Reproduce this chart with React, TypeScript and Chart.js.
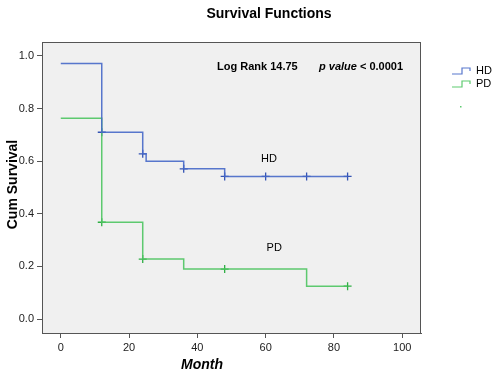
import React, { useEffect, useRef } from "react";
import { Chart, registerables } from "chart.js";

Chart.register(...registerables);

const xTickValues = [0, 20, 40, 60, 80, 100];
const yTickValues = [0, 0.2, 0.4, 0.6, 0.8, 1.0];

// Kaplan-Meier step curves (month, cumulative survival)
const hdMonths = [0, 12, 24, 25, 36, 48, 84];
const hdSurvival = [0.971, 0.71, 0.628, 0.6, 0.571, 0.542, 0.542];
const hdCensorMonths = [12, 24, 36, 48, 60, 72, 84];
const hdCensorSurvival = [0.71, 0.628, 0.571, 0.542, 0.542, 0.542, 0.542];

const pdMonths = [0, 12, 24, 36, 72, 84];
const pdSurvival = [0.763, 0.368, 0.228, 0.19, 0.125, 0.125];
const pdCensorMonths = [12, 24, 48, 84];
const pdCensorSurvival = [0.368, 0.228, 0.19, 0.125];

const HD_COLOR = "rgba(70,104,200,0.9)";
const PD_COLOR = "rgba(76,196,96,0.9)";
const HD_MARK = "#3454b4";
const PD_MARK = "#2fae44";
const FONT = "'Liberation Sans', Arial, sans-serif";

const toPts = (xs: number[], ys: number[]) => xs.map((x, i) => ({ x, y: ys[i] }));

export default function App() {
  const ref = useRef<HTMLCanvasElement | null>(null);

  useEffect(() => {
    if (!ref.current) return;
    const decor = {
      id: "decor",
      beforeDraw(chart: any) {
        const { ctx, chartArea: a } = chart;
        ctx.save();
        ctx.fillStyle = "#f0f0f0";
        ctx.fillRect(a.left, a.top, a.right - a.left, a.bottom - a.top);
        ctx.restore();
      },
      afterDraw(chart: any) {
        const { ctx, chartArea: a, scales } = chart;
        const xs = scales.x;
        ctx.save();
        ctx.strokeStyle = "#555";
        ctx.lineWidth = 1;
        ctx.strokeRect(a.left + 0.5, a.top + 0.5, a.right - a.left - 1, a.bottom - a.top);
        ctx.fillStyle = "#000";
        ctx.textBaseline = "middle";
        // Title
        ctx.font = `bold 14px ${FONT}`;
        ctx.textAlign = "center";
        ctx.fillText("Survival Functions", 269, 14);
        // Annotation
        ctx.textAlign = "left";
        ctx.font = `bold 11px ${FONT}`;
        ctx.fillText("Log Rank 14.75", 217, 67);
        ctx.font = `italic bold 11px ${FONT}`;
        ctx.fillText("p value", 319, 67);
        const pw = ctx.measureText("p value ").width;
        ctx.font = `bold 11px ${FONT}`;
        ctx.fillText("< 0.0001", 319 + pw, 67);
        // Curve labels
        ctx.font = `11px ${FONT}`;
        ctx.textAlign = "center";
        ctx.fillText("HD", xs.getPixelForValue(61), 159);
        ctx.fillText("PD", xs.getPixelForValue(62.5), 248);
        // Axis titles
        ctx.font = `italic bold 14px ${FONT}`;
        ctx.fillText("Month", 202, 365);
        ctx.save();
        ctx.translate(13, (a.top + a.bottom) / 2 - 3);
        ctx.rotate(-Math.PI / 2);
        ctx.font = `bold 14px ${FONT}`;
        ctx.fillText("Cum Survival", 0, 0);
        ctx.restore();
        // Legend
        const drawIcon = (y: number, color: string) => {
          ctx.strokeStyle = color;
          ctx.lineWidth = 1.2;
          ctx.beginPath();
          ctx.moveTo(452, y + 3);
          ctx.lineTo(462, y + 3);
          ctx.lineTo(462, y - 3);
          ctx.lineTo(470, y - 3);
          ctx.lineTo(470, y);
          ctx.stroke();
        };
        drawIcon(71, HD_COLOR);
        drawIcon(84, PD_COLOR);
        ctx.fillStyle = "#000";
        ctx.font = `11px ${FONT}`;
        ctx.textAlign = "left";
        ctx.fillText("HD", 476, 71);
        ctx.fillText("PD", 476, 84);
        ctx.fillStyle = PD_COLOR;
        ctx.fillRect(460, 106, 1.5, 1.5);
        ctx.restore();
      },
    };

    const chart = new Chart(ref.current, {
      type: "scatter",
      data: {
        datasets: [
          {
            label: "HD",
            data: toPts(hdMonths, hdSurvival),
            showLine: true,
            stepped: "before",
            borderColor: HD_COLOR,
            borderWidth: 1.5,
            pointRadius: 0,
            fill: false,
          },
          {
            label: "PD",
            data: toPts(pdMonths, pdSurvival),
            showLine: true,
            stepped: "before",
            borderColor: PD_COLOR,
            borderWidth: 1.5,
            pointRadius: 0,
            fill: false,
          },
          {
            label: "HD-censored",
            data: toPts(hdCensorMonths, hdCensorSurvival),
            showLine: false,
            pointStyle: "cross",
            pointRadius: 4,
            borderColor: HD_MARK,
            borderWidth: 1.3,
          },
          {
            label: "PD-censored",
            data: toPts(pdCensorMonths, pdCensorSurvival),
            showLine: false,
            pointStyle: "cross",
            pointRadius: 4,
            borderColor: PD_MARK,
            borderWidth: 1.3,
          },
        ],
      },
      options: {
        responsive: false,
        animation: false,
        layout: { padding: { top: 42, right: 79, left: 0, bottom: 0 } },
        plugins: { legend: { display: false }, title: { display: false }, tooltip: { enabled: false } },
        scales: {
          x: {
            type: "linear",
            min: -5.5,
            max: 105.5,
            afterBuildTicks: (s: any) => {
              s.ticks = xTickValues.map((v) => ({ value: v }));
            },
            afterFit: (s: any) => {
              s.height = 43;
            },
            grid: { drawOnChartArea: false, drawTicks: true, tickLength: 5, color: "#555" },
            border: { display: true, color: "#555" },
            ticks: { color: "#222", font: { size: 11, family: FONT }, padding: 3, callback: (v: any) => String(v) },
          },
          y: {
            type: "linear",
            min: -0.053,
            max: 1.053,
            afterBuildTicks: (s: any) => {
              s.ticks = yTickValues.map((v) => ({ value: v }));
            },
            afterFit: (s: any) => {
              s.width = 42;
            },
            grid: { drawOnChartArea: false, drawTicks: true, tickLength: 5, color: "#555" },
            border: { display: true, color: "#555" },
            ticks: { color: "#222", font: { size: 11, family: FONT }, padding: 3, callback: (v: any) => Number(v).toFixed(1) },
          },
        },
      },
      plugins: [decor],
    } as any);
    return () => chart.destroy();
  }, []);

  return (
    <div style={{ position: "fixed", left: 0, top: 0, width: 500, height: 376, background: "#fff" }}>
      <canvas ref={ref} width={500} height={376} />
    </div>
  );
}
